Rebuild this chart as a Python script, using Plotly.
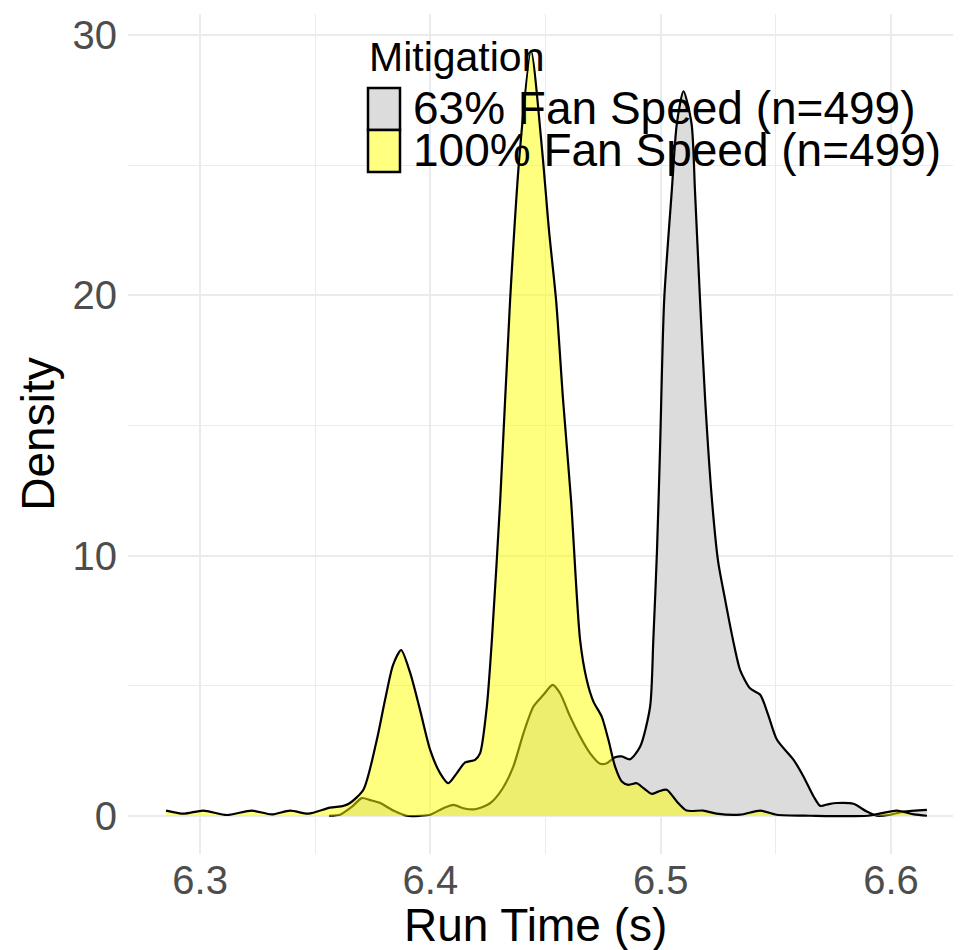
import plotly.graph_objects as go

# ---------------- data ----------------
runtime_63 = [6.3560, 6.3610, 6.3660, 6.3702, 6.3740, 6.3782, 6.3839, 6.3897, 6.3955, 6.3999,
              6.4056, 6.4100, 6.4143, 6.4194, 6.4259, 6.4310, 6.4360, 6.4404, 6.4447, 6.4491,
              6.4531, 6.4563, 6.4607, 6.4650, 6.4693, 6.4737, 6.4766, 6.4802, 6.4831, 6.4867,
              6.4911, 6.4954, 6.4968, 6.4984, 6.4997, 6.5015, 6.5048, 6.5070, 6.5099, 6.5134,
              6.5149, 6.5171, 6.5193, 6.5223, 6.5249, 6.5280, 6.5314, 6.5345, 6.5388, 6.5432,
              6.5466, 6.5505, 6.5577, 6.5620, 6.5664, 6.5693, 6.5730, 6.5765, 6.5837, 6.5895,
              6.5938, 6.5996, 6.6054, 6.6156]
density_63 = [0.00, 0.05, 0.35, 0.68, 0.60, 0.49, 0.20, 0.00, 0.00, 0.04,
              0.29, 0.42, 0.29, 0.25, 0.48, 1.00, 1.89, 3.17, 4.19, 4.65,
              5.03, 4.71, 3.81, 3.05, 2.41, 2.00, 2.02, 2.25, 2.28, 2.17,
              2.66, 4.19, 6.76, 10.2, 14.05, 19.8, 24.0, 26.6, 27.85, 26.6,
              24.0, 19.8, 16.0, 12.1, 9.8, 8.3, 6.76, 5.6, 4.9, 4.65,
              3.9, 2.92, 2.15, 1.51, 0.74, 0.38, 0.45, 0.49, 0.46, 0.16,
              0.00, 0.04, 0.16, 0.23]

runtime_100 = [6.2852, 6.2928, 6.3014, 6.3116, 6.3224, 6.3311, 6.3391, 6.3470, 6.3564, 6.3622,
               6.3651, 6.3709, 6.3767, 6.3803, 6.3838, 6.3873, 6.3912, 6.3955, 6.3999, 6.4042,
               6.4078, 6.4115, 6.4151, 6.4194, 6.4216, 6.4245, 6.4267, 6.4303, 6.4346, 6.4389,
               6.4437, 6.4485, 6.4515, 6.4546, 6.4576, 6.4611, 6.4650, 6.4679, 6.4708, 6.4744,
               6.4773, 6.4802, 6.4831, 6.4860, 6.4896, 6.4925, 6.4961, 6.4990, 6.5026, 6.5070,
               6.5113, 6.5185, 6.5243, 6.5345, 6.5432, 6.5504, 6.5650, 6.5900, 6.6025, 6.6100,
               6.6156]
density_100 = [0.20, 0.08, 0.20, 0.03, 0.20, 0.05, 0.20, 0.08, 0.31, 0.38,
               0.49, 1.00, 2.90, 4.45, 5.80, 6.37, 5.50, 4.07, 2.53, 1.64,
               1.25, 1.64, 2.05, 2.15, 2.41, 4.19, 6.76, 12.1, 19.8, 25.6,
               29.4, 25.6, 22.5, 19.8, 16.0, 12.1, 6.76, 5.22, 4.39, 3.81,
               2.92, 1.89, 1.32, 1.19, 1.25, 1.06, 0.84, 0.93, 1.00, 0.55,
               0.20, 0.20, 0.08, 0.04, 0.20, 0.04, 0.00, 0.00, 0.20, 0.05,
               0.00]

series_names = ["63% Fan Speed (n=499)", "100% Fan Speed (n=499)"]
legend_title = "Mitigation"
x_tick_vals = [6.3, 6.4, 6.5, 6.6]
x_tick_text = ["6.3", "6.4", "6.5", "6.6"]
y_tick_vals = [0, 10, 20, 30]
y_tick_text = ["0", "10", "20", "30"]
x_title = "Run Time (s)"
y_title = "Density"

# ---------------- styling ----------------
# the page body has an 8px margin, so the figure is drawn 8px smaller and offset
OFF = 8
W, H = 961 - OFF, 950 - OFF
ML, MR, MT, MB = 128 - OFF, 0, 14 - OFF, 950 - 854
FONT = "Liberation Sans, Arial, sans-serif"
GRAY_FILL = "#DCDCDC"
YELLOW_FILL = "rgba(255,255,0,0.5)"
YELLOW_KEY = "#FFFF80"
GRID = "#EBEBEB"

fig = go.Figure()
fig.add_trace(go.Scatter(x=runtime_63, y=density_63, name=series_names[0], mode="lines",
                         line=dict(color="black", width=2.2, shape="spline", smoothing=0.7),
                         fill="tozeroy", fillcolor=GRAY_FILL, showlegend=False))
fig.add_trace(go.Scatter(x=runtime_100, y=density_100, name=series_names[1], mode="lines",
                         line=dict(color="black", width=2.2, shape="spline", smoothing=0.7),
                         fill="tozeroy", fillcolor=YELLOW_FILL, showlegend=False))

pw = W - ML - MR
ph = H - MT - MB


def px(xs):
    """screen pixel x -> paper"""
    return (xs - OFF - ML) / pw


def py(ys):
    """screen pixel y -> paper"""
    return (H - MB - (ys - OFF)) / ph


# manual legend (ggplot style key boxes)
shapes = []
keys = [(88, 130, GRAY_FILL), (130, 172, YELLOW_KEY)]
for y0, y1, col in keys:
    shapes.append(dict(type="rect", xref="paper", yref="paper",
                       x0=px(368), x1=px(400), y0=py(y1), y1=py(y0),
                       fillcolor=col, line=dict(color="black", width=2.5), layer="above"))

annotations = [
    dict(text=legend_title, xref="paper", yref="paper", x=px(367), y=py(57),
         xanchor="left", yanchor="middle", showarrow=False,
         font=dict(family=FONT, size=41, color="black")),
    dict(text=x_title, xref="paper", yref="paper", x=px(535), y=py(925),
         xanchor="center", yanchor="middle", showarrow=False,
         font=dict(family=FONT, size=46, color="black")),
]
for name, yc in zip(series_names, [108, 150]):
    annotations.append(dict(text=name, xref="paper", yref="paper", x=px(411), y=py(yc),
                            xanchor="left", yanchor="middle", showarrow=False,
                            font=dict(family=FONT, size=46, color="black")))

fig.update_layout(
    width=W, height=H,
    margin=dict(l=ML, r=MR, t=MT, b=MB, pad=0),
    paper_bgcolor="white", plot_bgcolor="white",
    font=dict(family=FONT, color="black"),
    shapes=shapes, annotations=annotations,
    showlegend=False,
)
fig.update_xaxes(range=[6.2687, 6.6304], tickvals=x_tick_vals, ticktext=x_tick_text,
                 showgrid=True, gridcolor=GRID, gridwidth=2, zeroline=False, showline=False,
                 ticks="", ticklabelstandoff=-1, automargin=False,
                 tickfont=dict(family=FONT, size=40, color="#4D4D4D"),
                 minor=dict(tickvals=[6.25, 6.35, 6.45, 6.55], showgrid=True, gridcolor=GRID, gridwidth=1))
fig.update_yaxes(range=[-1.47, 30.82], tickvals=y_tick_vals, ticktext=y_tick_text,
                 showgrid=True, gridcolor=GRID, gridwidth=2, zeroline=False, showline=False,
                 ticks="", ticklabelstandoff=10, automargin=False,
                 tickfont=dict(family=FONT, size=40, color="#4D4D4D"),
                 minor=dict(tickvals=[5, 15, 25], showgrid=True, gridcolor=GRID, gridwidth=1),
                 title=dict(text=y_title, font=dict(family=FONT, size=46, color="black"), standoff=3))

fig.write_html("out.html")
